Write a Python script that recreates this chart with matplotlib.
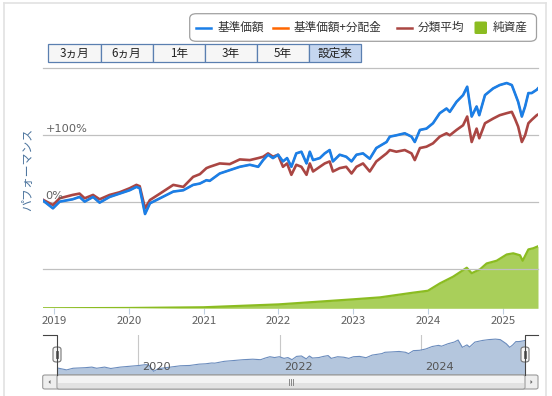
import numpy as np
import matplotlib
matplotlib.use("Agg")
import matplotlib.pyplot as plt
from matplotlib.patches import FancyBboxPatch, Rectangle, Polygon
from matplotlib.lines import Line2D

plt.rcParams['font.family'] = ['Noto Sans CJK JP', 'DejaVu Sans']

# ---------------- data ----------------
perf_dates = [
    "2018-11-06", "2018-12-26", "2019-01-28", "2019-04-01", "2019-05-05", "2019-05-30",
    "2019-07-10", "2019-08-11", "2019-09-29", "2019-11-17", "2020-01-05", "2020-02-07",
    "2020-02-23", "2020-03-20", "2020-04-13", "2020-06-01", "2020-08-05", "2020-09-23",
    "2020-11-10", "2020-12-13", "2021-01-14", "2021-01-30", "2021-03-20", "2021-05-08",
    "2021-06-26", "2021-08-14", "2021-09-24", "2021-10-18", "2021-11-11", "2021-12-05",
    "2021-12-30", "2022-01-23", "2022-02-12", "2022-03-05", "2022-03-29", "2022-04-23",
    "2022-05-18", "2022-06-03", "2022-06-19", "2022-07-22", "2022-08-15", "2022-09-08",
    "2022-09-24", "2022-10-27", "2022-11-28", "2022-12-24", "2023-01-17", "2023-02-18",
    "2023-03-23", "2023-04-24", "2023-06-13", "2023-06-29", "2023-07-31", "2023-09-10",
    "2023-10-13", "2023-10-29", "2023-11-23", "2023-12-25", "2024-01-26", "2024-02-28",
    "2024-04-01", "2024-04-17", "2024-05-20", "2024-06-21", "2024-07-11", "2024-08-02",
    "2024-08-26", "2024-09-08", "2024-10-06", "2024-11-15", "2024-12-17", "2025-01-20",
    "2025-02-14", "2025-03-01", "2025-03-17", "2025-04-04", "2025-04-20", "2025-05-06",
    "2025-05-22", "2025-06-16", "2025-06-22",
]
nav_price = [  # 基準価額 performance (%)
    3, -9, 1, 4.5, 8, 1,
    8, -0.5, 8, 13, 18, 23,
    21, -17.5, -1.5, 6, 16, 18,
    26, 28, 33, 32, 43, 48,
    53, 56, 53, 63, 71, 66,
    71, 61, 66, 53, 73, 75.5,
    58, 75.5, 63, 66, 73, 78,
    61, 71, 68, 61, 71, 73,
    65, 81, 90, 98, 100, 103,
    98, 90, 108, 110, 118, 133,
    140, 135, 150, 160, 172.5, 128,
    143, 130, 160, 170, 175, 178,
    175, 163, 150, 128, 143, 163,
    163, 168, 170,
]
nav_with_dist = list(nav_price)  # 基準価額+分配金 (no distributions -> identical)
category_avg = [  # 分類平均 performance (%)
    4, -4, 6, 11, 13, 6,
    11, 4.5, 11, 15, 21, 26,
    24, -9, 3.4, 13, 26, 23,
    38, 42, 51, 53, 58, 57,
    64, 63, 66, 68, 73, 68,
    71, 53, 58, 41, 56, 53,
    41, 58, 46, 53, 58, 61,
    46, 51, 53, 43, 53, 58,
    46, 61, 73, 78, 75.5, 78,
    73, 63, 81, 83, 88, 98,
    103, 100, 108, 115, 128, 90,
    110, 95.5, 118, 125, 130, 133,
    135, 125, 113, 90, 100, 118,
    123, 130, 131,
]

asset_dates = [
    "2018-11-06", "2020-01-01", "2020-12-31", "2022-01-01", "2023-01-01", "2023-05-12",
    "2023-10-20", "2024-01-01", "2024-02-29", "2024-05-03", "2024-07-09", "2024-08-02",
    "2024-09-12", "2024-10-14", "2024-12-02", "2025-01-20", "2025-02-21", "2025-03-26",
    "2025-04-08", "2025-05-06", "2025-05-30", "2025-06-22",
]
net_assets = [  # 純資産 (relative units)
    0, 0.8, 2.6, 10, 23, 28,
    40, 45, 64, 81, 104, 90,
    100, 115, 122, 138, 141, 136,
    122, 151, 154, 159,
]

x_start, x_end = "2018-11-06", "2025-06-22"
year_ticks = ["2019", "2020", "2021", "2022", "2023", "2024", "2025"]
nav_year_ticks = ["2020", "2022", "2024"]
perf_tick_vals = [0, 100]
perf_tick_labels = ["0%", "+100%"]
grid_vals = [-100, 0, 100, 200]
legend_labels = ["基準価額", "基準価額+分配金", "分類平均", "純資産"]
button_labels = ["3ヵ月", "6ヵ月", "1年", "3年", "5年", "設定来"]
y_title = "パフォーマンス"

# ---------------- figure ----------------
W, H = 552, 396
fig = plt.figure(figsize=(W / 100, H / 100), dpi=100)
fig.patch.set_facecolor("white")


def fx(x):
    return x / W


def fy(y):
    return 1 - y / H


def rect(l, t, r, b):
    return [fx(l), fy(b), (r - l) / W, (b - t) / H]


pd_dates = np.array(perf_dates, dtype="datetime64[D]")
ad_dates = np.array(asset_dates, dtype="datetime64[D]")
xl = (np.datetime64(x_start), np.datetime64(x_end))

BLUE = "#1a7fe8"
ORANGE = "#ff6600"
RED = "#aa4643"
GREEN = "#8bbc21"
GREEN_FILL = "#a9cf5a"
GRID = "#c0c0c0"
LABEL = "#606060"

# outer panel border
fig.add_artist(Line2D([fx(4), fx(4)], [fy(2.7), fy(396)], color="#e2e2e2", lw=1.2))
fig.add_artist(Line2D([fx(546), fx(546)], [fy(2.7), fy(396)], color="#e2e2e2", lw=1.2))
fig.add_artist(Line2D([fx(4), fx(546)], [fy(2.7), fy(2.7)], color="#e2e2e2", lw=1.2))

# ---- main axes ----
main_rect = rect(42.7, 68.3, 538, 308.3)
ax_na = fig.add_axes(main_rect)
ax_na.set_xlim(*xl)
ax_na.set_ylim(0, 240 / 39 * 100)
ax_na.fill_between(ad_dates, net_assets, 0, color=GREEN_FILL, lw=0, zorder=2)
ax_na.plot(ad_dates, net_assets, color=GREEN, lw=1.6, zorder=3, solid_joinstyle="round")
for s in ax_na.spines.values():
    s.set_visible(False)
ax_na.set_yticks([])
ax_na.set_xticks(np.array([y + "-01-01" for y in year_ticks], dtype="datetime64[D]"))
ax_na.set_xticklabels(year_ticks)
ax_na.tick_params(axis="x", length=4, width=0.8, color="#c0d0e0", pad=1.2,
                  labelsize=8.2, labelcolor=LABEL)

ax_p = ax_na.twinx()
ax_p.set_xlim(*xl)
ax_p.set_ylim(-158.2, 200)
for s in ax_p.spines.values():
    s.set_visible(False)
ax_p.set_yticks([])
for g in grid_vals:
    ax_p.axhline(g, color=GRID, lw=0.9, zorder=1, clip_on=False)
ax_p.plot(pd_dates, category_avg, color=RED, lw=1.9, zorder=3, solid_joinstyle="round")
ax_p.plot(pd_dates, nav_with_dist, color=ORANGE, lw=1.3, zorder=4, solid_joinstyle="round")
ax_p.plot(pd_dates, nav_price, color=BLUE, lw=1.9, zorder=5, solid_joinstyle="round")
for v, lab in zip(perf_tick_vals, perf_tick_labels):
    ax_p.annotate(lab, xy=(0, v), xycoords=("axes fraction", "data"),
                  xytext=(3, 1.5), textcoords="offset pixels", ha="left", va="bottom",
                  fontsize=8.2, color=LABEL, family=["DejaVu Sans"])

fig.text(fx(27.5), fy(169), y_title, rotation=90, ha="center", va="center",
         fontsize=8.6, color="#4d759e")

# ---- legend ----
leg = FancyBboxPatch((fx(189.7), fy(41.3)), (536.5 - 189.7) / W, (41.3 - 13.7) / H,
                     boxstyle="round,pad=0,rounding_size=0.012", transform=fig.transFigure,
                     fc="white", ec="#a0a0a0", lw=0.9)
fig.add_artist(leg)
ly = 27.5
leg_items = [(196.3, 217.3, BLUE), (273, 294, ORANGE), (397, 417.5, RED)]
for (x0, tx, c), lab in zip(leg_items, legend_labels[:3]):
    fig.add_artist(Line2D([fx(x0), fx(x0 + 15)], [fy(ly), fy(ly)], color=c, lw=1.8))
    fig.text(fx(tx), fy(ly), lab, ha="left", va="center", fontsize=8.4, color="#333333")
fig.add_artist(FancyBboxPatch((fx(474.5), fy(34)), 12.5 / W, 12.5 / H,
                              boxstyle="round,pad=0,rounding_size=0.003",
                              transform=fig.transFigure, fc=GREEN, ec="none"))
fig.text(fx(493), fy(ly), legend_labels[3], ha="left", va="center", fontsize=8.4, color="#333333")

# ---- range buttons ----
bx = [48.2, 100.7, 152.5, 204.6, 256.7, 308.8, 360.6]
for i, lab in enumerate(button_labels):
    sel = (i == len(button_labels) - 1)
    fig.add_artist(Rectangle((fx(bx[i]), fy(62.3)), (bx[i + 1] - bx[i]) / W, 18 / H,
                             transform=fig.transFigure,
                             fc="#c5d6ef" if sel else "#f6f6f6", ec="#5a7fb0", lw=0.9))
    fig.text(fx((bx[i] + bx[i + 1]) / 2), fy(53.3), lab, ha="center", va="center",
             fontsize=8.4, color="#222222")

# ---- navigator ----
nav_l, nav_r, nav_t, nav_b = 57, 525, 335, 375
ax_nav = fig.add_axes(rect(nav_l, nav_t, nav_r, nav_b))
ax_nav.set_xlim(*xl)
ax_nav.set_ylim(-40, 203)
ax_nav.fill_between(pd_dates, nav_price, -40, color="#b4c6dd", lw=0, zorder=2)
ax_nav.plot(pd_dates, nav_price, color="#6b8cbd", lw=0.8, zorder=3)
for s in ax_nav.spines.values():
    s.set_visible(False)
ax_nav.set_xticks([])
ax_nav.set_yticks([])
for y in nav_year_ticks:
    d = np.datetime64(y + "-01-01")
    ax_nav.axvline(d, color="#c8c8c8", lw=0.8, zorder=1)
    ax_nav.annotate(y, xy=(d, 0), xycoords=("data", "axes fraction"), xytext=(4, 3),
                    textcoords="offset pixels", ha="left", va="bottom", fontsize=8.2,
                    color="#555555", family=["DejaVu Sans"], zorder=4)

# navigator outline
fig.add_artist(Line2D([fx(42.7), fx(nav_l), fx(nav_l)], [fy(nav_t), fy(nav_t), fy(nav_b)],
                      color="#444444", lw=0.8))
fig.add_artist(Line2D([fx(538), fx(nav_r), fx(nav_r)], [fy(nav_t), fy(nav_t), fy(nav_b)],
                      color="#444444", lw=0.8))
for cx in (nav_l, nav_r):
    fig.add_artist(FancyBboxPatch((fx(cx - 4), fy(362)), 8 / W, 15 / H,
                                  boxstyle="round,pad=0,rounding_size=0.006",
                                  transform=fig.transFigure, fc="#f6f6f6", ec="#777777", lw=0.8))
    for dx in (-1.2, 1.2):
        fig.add_artist(Line2D([fx(cx + dx), fx(cx + dx)], [fy(351), fy(358)],
                              color="#555555", lw=0.6))

# scrollbar
sb_t, sb_b = 375, 389
fig.add_artist(FancyBboxPatch((fx(42.7), fy(sb_b)), (538 - 42.7) / W, (sb_b - sb_t) / H,
                              boxstyle="round,pad=0,rounding_size=0.004",
                              transform=fig.transFigure, fc="#eeeeee", ec="#9a9a9a", lw=0.8))
fig.add_artist(FancyBboxPatch((fx(nav_l), fy(sb_b)), (nav_r - nav_l) / W, (sb_b - sb_t) / H,
                              boxstyle="round,pad=0,rounding_size=0.004",
                              transform=fig.transFigure, fc="#f3f3f3", ec="#9a9a9a", lw=0.8))
fig.add_artist(Rectangle((fx(nav_l + 1), fy(sb_b - 1)), (nav_r - nav_l - 2) / W, 5 / H,
                         transform=fig.transFigure, fc="#e2e2e2", ec="none"))
cy = (sb_t + sb_b) / 2
fig.add_artist(Polygon([[fx(48.5), fy(cy)], [fx(50.5), fy(cy - 2)], [fx(50.5), fy(cy + 2)]],
                       closed=True, transform=fig.transFigure, fc="#666666", ec="none"))
fig.add_artist(Polygon([[fx(532.5), fy(cy)], [fx(530.5), fy(cy - 2)], [fx(530.5), fy(cy + 2)]],
                       closed=True, transform=fig.transFigure, fc="#666666", ec="none"))
gx = (nav_l + nav_r) / 2
for dx in (-2, 0, 2):
    fig.add_artist(Line2D([fx(gx + dx), fx(gx + dx)], [fy(cy - 3), fy(cy + 3)],
                          color="#888888", lw=0.7))

fig.savefig("out.png", dpi=100, facecolor="white")
